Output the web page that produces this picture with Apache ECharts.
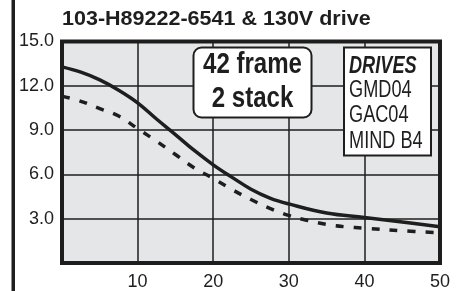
<!DOCTYPE html>
<html>
<head>
<meta charset="utf-8">
<script src="https://cdn.jsdelivr.net/npm/echarts@6/dist/echarts.min.js"></script>
<style>
  html, body { margin: 0; padding: 0; background: #fff; }
  #chart { width: 456px; height: 291px; }
</style>
</head>
<body>
<div id="chart"></div>
<script>
// speed (rps) vs torque, two curves
var speedSolid = [0, 2.5, 5, 7.5, 10, 12.5, 15, 17.5, 20, 22.5, 25, 27.5, 30, 35, 40, 45, 50];
var torqueSolid = [13.28, 12.92, 12.4, 11.7, 10.85, 9.75, 8.7, 7.62, 6.65, 5.8, 5.0, 4.4, 4.0, 3.38, 3.08, 2.78, 2.45];
var speedDashed = [0, 2.5, 5, 7.5, 10, 12.5, 15, 17.5, 20, 22.5, 25, 27.5, 30, 32.5, 35, 37.5, 40, 45, 50];
var torqueDashed = [11.3, 10.95, 10.45, 9.95, 9.1, 8.25, 7.35, 6.44, 5.72, 4.97, 4.3, 3.7, 3.22, 2.88, 2.61, 2.45, 2.36, 2.18, 2.05];

var titleText = '103-H89222-6541 & 130V drive';
var frameLines = ['42 frame', '2 stack'];
var drivesHead = 'DRIVES';
var drivesList = ['GMD04', 'GAC04', 'MIND B4'];

function pairs(xs, ys) {
    var out = [];
    for (var i = 0; i < xs.length; i++) out.push([xs[i], ys[i]]);
    return out;
}

var ink = '#1e1e1e';
var chart = echarts.init(document.getElementById('chart'));

var graphics = [
    // thick bar at the far left
    { type: 'rect', shape: { x: 11.5, y: 0, width: 3.5, height: 291 }, style: { fill: ink } },
    { type: 'text', x: 62, y: 19.5, scaleX: 1.04,
      style: { text: titleText, font: 'bold 20.7px "Liberation Sans", Arial, sans-serif', fill: ink,
               textAlign: 'left', textVerticalAlign: 'middle' } },
    // 42 frame box
    { type: 'rect', shape: { x: 193.5, y: 47.5, width: 118, height: 70, r: 8 },
      style: { fill: '#fff', stroke: ink, lineWidth: 2 }, z: 10 },
    // drives box
    { type: 'rect', shape: { x: 344, y: 47.5, width: 87, height: 108 },
      style: { fill: '#fff', stroke: ink, lineWidth: 2 }, z: 10 }
];
var frameY = [64.5, 98.5];
frameLines.forEach(function (t, i) {
    graphics.push({ type: 'text', x: 252.5, y: frameY[i], scaleX: 0.83, z: 11,
        style: { text: t, font: 'bold 29px "Liberation Sans", Arial, sans-serif', fill: ink,
                 textAlign: 'center', textVerticalAlign: 'middle' } });
});
graphics.push({ type: 'text', x: 349, y: 67, scaleX: 0.79, z: 11,
    style: { text: drivesHead, font: 'italic bold 23px "Liberation Sans", Arial, sans-serif', fill: ink,
             textAlign: 'left', textVerticalAlign: 'middle' } });
var drivesY = [91, 116, 141.5];
drivesList.forEach(function (t, i) {
    graphics.push({ type: 'text', x: 349, y: drivesY[i], scaleX: 0.79, z: 11,
        style: { text: t, font: '23px "Liberation Sans", Arial, sans-serif', fill: ink,
                 textAlign: 'left', textVerticalAlign: 'middle' } });
});

chart.setOption({
    animation: false,
    grid: {
        left: 62, top: 41.5, right: 16, bottom: 25,
        show: true,
        backgroundColor: '#e5e6e7',
        borderColor: ink,
        borderWidth: 4
    },
    xAxis: {
        type: 'value',
        min: 0, max: 50, interval: 10,
        axisLine: { show: false },
        axisTick: { show: false },
        splitLine: { lineStyle: { color: ink, width: 1.5 } },
        axisLabel: {
            showMinLabel: false,
            margin: 10,
            color: ink,
            fontSize: 18,
            fontFamily: '"Liberation Sans", Arial, sans-serif'
        }
    },
    yAxis: {
        type: 'value',
        min: 0, max: 15, interval: 3,
        axisLine: { show: false },
        axisTick: { show: false },
        splitLine: { lineStyle: { color: ink, width: 1.5 } },
        axisLabel: {
            showMinLabel: false,
            margin: 8,
            color: ink,
            fontSize: 18,
            fontFamily: '"Liberation Sans", Arial, sans-serif',
            formatter: function (v) { return v.toFixed(1); }
        }
    },
    series: [
        {
            type: 'line',
            data: pairs(speedSolid, torqueSolid),
            smooth: 0.4,
            showSymbol: false,
            lineStyle: { color: ink, width: 3.5 },
            z: 5
        },
        {
            type: 'line',
            data: pairs(speedDashed, torqueDashed),
            smooth: 0.4,
            showSymbol: false,
            lineStyle: { color: ink, width: 3.5, type: [8, 10] },
            z: 5
        }
    ],
    graphic: graphics
});
</script>
</body>
</html>
